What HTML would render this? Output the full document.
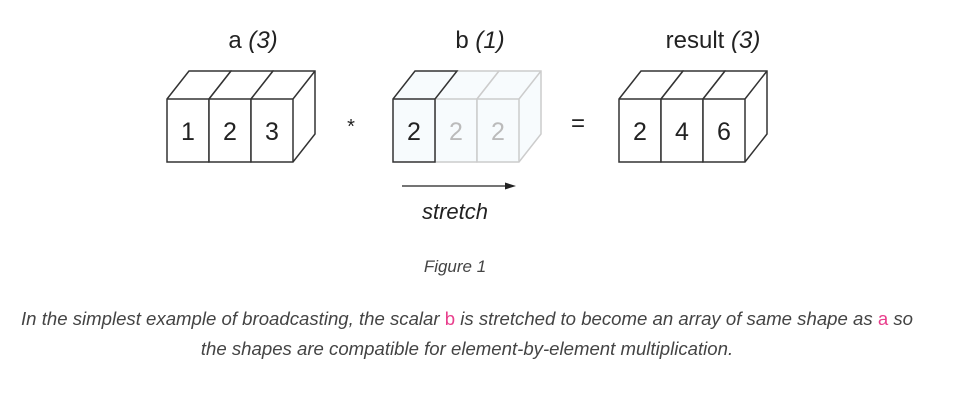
<!DOCTYPE html>
<html><head><meta charset="utf-8"><style>
body{margin:0;background:#fff;width:964px;height:406px;overflow:hidden;font-family:"Liberation Sans",sans-serif}
svg{position:absolute;left:0;top:0}
.cap{position:absolute;left:0;width:934px;text-align:center;font-style:italic;color:#444;font-size:18.6px;line-height:30px}
.code{color:#e83e8c;font-style:normal}
</style></head><body>
<svg width="964" height="406">
<g font-family="Liberation Sans,sans-serif" fill="#222" font-size="24" text-anchor="middle">
<text x="253" y="48">a <tspan font-style="italic">(3)</tspan></text>
<text x="480" y="48">b <tspan font-style="italic">(1)</tspan></text>
<text x="713" y="48">result <tspan font-style="italic">(3)</tspan></text>
<text x="351" y="133" font-size="20">*</text>
<text x="578" y="131" font-size="24">=</text>
<text x="455" y="219" font-size="22" font-style="italic">stretch</text>
</g>
<line x1="402" y1="186" x2="508" y2="186" stroke="#222" stroke-width="1.2"/>
<polygon points="516,186 505,182.5 505,189.5" fill="#222"/>
<g id="boxes"></g>
</svg>
<div class="cap" style="top:252px;width:910px;font-size:17px">Figure 1</div>
<div class="cap" style="top:304px">In the simplest example of broadcasting, the scalar <span class="code">b</span> is stretched to become an array of same shape as <span class="code">a</span> so<br>the shapes are compatible for element-by-element multiplication.</div>
<script>
const arrays=[
 {name:'a',x:167,vals:['1','2','3'],faded:[false,false,false]},
 {name:'b',x:393,vals:['2','2','2'],faded:[false,true,true]},
 {name:'result',x:619,vals:['2','4','6'],faded:[false,false,false]}
];
const g=document.getElementById('boxes');
const W=42,T=99,B=162,DX=22,DY=-28,NS='http://www.w3.org/2000/svg';
function el(t,a){const e=document.createElementNS(NS,t);for(const k in a)e.setAttribute(k,a[k]);g.appendChild(e);return e;}
arrays.forEach(arr=>{
 const hasFaded=arr.faded.some(f=>f);
 [true,false].forEach(pass=>{
 arr.vals.forEach((v,i)=>{
  if(arr.faded[i]!==pass)return;
  const x=arr.x+i*W,c=arr.faded[i]?'#ccc':'#333';
  const fill=arr.name==='b'?'#f7fbfd':'#fff';
  const solidOnly=hasFaded&&!arr.faded[i];
  let d;
  if(solidOnly){
   d=`M${x},${B} L${x},${T} L${x+DX},${T+DY} L${x+W+DX},${T+DY} L${x+W},${T} L${x+W},${B} Z`;
  }else{
   d=`M${x},${T} L${x+DX},${T+DY} L${x+W+DX},${T+DY} L${x+W+DX},${B+DY} L${x+W},${B} L${x},${B} Z`;
  }
  const p=el('path',{d:d,fill:fill,stroke:c,'stroke-width':1.5});
  
  
  if(solidOnly){
   el('path',{d:`M${x},${T} L${x+W},${T}`,fill:'none',stroke:c,'stroke-width':1.5});
  }else{
   el('path',{d:`M${x},${T} L${x+W},${T} L${x+W},${B} M${x+W},${T} L${x+W+DX},${T+DY}`,fill:'none',stroke:c,'stroke-width':1.5});
  }
  const t=el('text',{x:x+W/2,y:T+41,'text-anchor':'middle','font-size':25,'font-family':'Liberation Sans,sans-serif',fill:arr.faded[i]?'#bbb':'#222'});
  t.textContent=v;
  
  
 });});
});
</script>
</body></html>
